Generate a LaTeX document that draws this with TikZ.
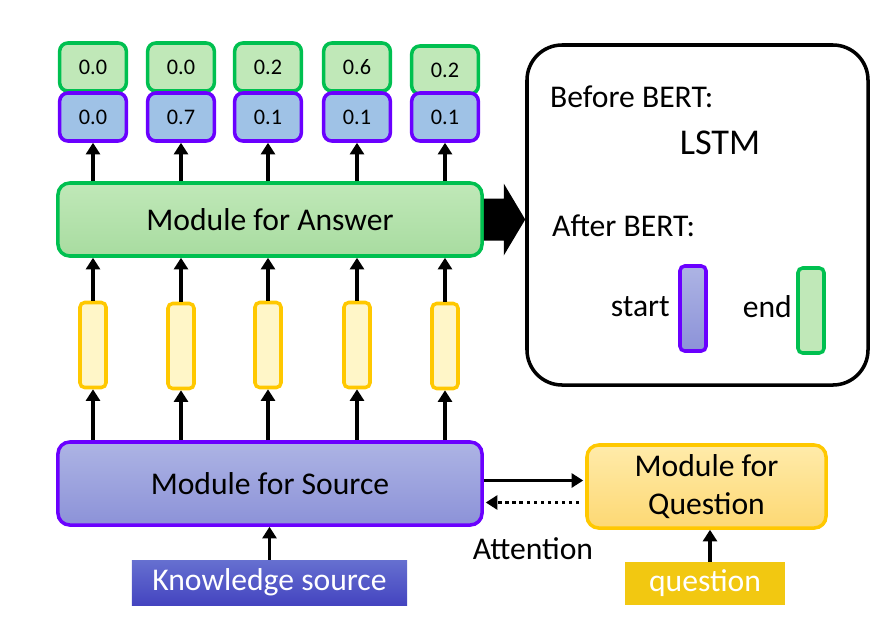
\documentclass[tikz,border=0pt]{standalone}
\usepackage{fontspec}
\setmainfont{Carlito}
\usetikzlibrary{arrows.meta,calc,positioning}
\definecolor{grn}{HTML}{00C050}
\definecolor{grnfill}{HTML}{C0E8B8}
\definecolor{grndark}{HTML}{A8DCA0}
\definecolor{pur}{HTML}{6A00FF}
\definecolor{bluefill}{HTML}{9FC2E6}
\definecolor{lavtop}{HTML}{ADB4E4}
\definecolor{lavbot}{HTML}{8C92D8}
\definecolor{yel}{HTML}{FFC800}
\definecolor{yelfill}{HTML}{FFF6C8}
\definecolor{qtop}{HTML}{FFEBAA}
\definecolor{qbot}{HTML}{FDD873}
\definecolor{kstop}{HTML}{6670D0}
\definecolor{ksbot}{HTML}{4444C0}
\definecolor{gold}{HTML}{F2C811}
\begin{document}
\begin{tikzpicture}[
  x=0.03cm, y=-0.03cm,
  prob/.style={draw, rounded corners=7pt, line width=3pt, minimum width=2.0cm,
    minimum height=1.44cm, inner sep=0, font=\fontsize{19}{22}\selectfont},
  endp/.style={prob, draw=grn, fill=grnfill},
  startp/.style={prob, draw=pur, fill=bluefill},
  hid/.style={draw=yel, fill=yelfill, rounded corners=4pt, line width=3pt,
    minimum width=0.78cm, minimum height=2.55cm, inner sep=0},
  module/.style={rounded corners=10pt, line width=3pt, minimum width=12.72cm,
    inner sep=0, font=\fontsize{27}{32}\selectfont},
  up/.style={line width=3pt, -{Triangle[width=12pt,length=10pt]}},
  txt/.style={font=\fontsize{27}{32}\selectfont, inner sep=0}
]
\useasboundingbox (0,0) rectangle (884,637);

% output probabilities
\node[endp]   (e1) at (93, 67)  {0.0};
\node[startp] (s1) at (93, 117) {0.0};
\node[endp]   (e2) at (181, 67)  {0.0};
\node[startp] (s2) at (181, 117) {0.7};
\node[endp]   (e3) at (268, 67)  {0.2};
\node[startp] (s3) at (268, 117) {0.1};
\node[endp]   (e4) at (357, 67)  {0.6};
\node[startp] (s4) at (357, 117) {0.1};
\node[endp]   (e5) at (445, 70)  {0.2};
\node[startp] (s5) at (445, 117) {0.1};

% hidden vectors
\node[hid] (h1) at (93, 345)  {};
\node[hid] (h2) at (181, 346) {};
\node[hid] (h3) at (268, 345) {};
\node[hid] (h4) at (357, 345) {};
\node[hid] (h5) at (445, 346) {};

% modules
\node[module, draw=grn, top color=grnfill, bottom color=grndark,
  minimum height=2.19cm] (ans) at (270, 219.5) {Module for Answer};
\node[module, draw=pur, top color=lavtop, bottom color=lavbot,
  minimum height=2.49cm] (src) at (270, 483.5) {Module for Source};
\node[module, draw=yel, top color=qtop, bottom color=qbot,
  minimum width=7.17cm, minimum height=2.49cm, align=center]
  (qmod) at (706.5, 486.5) {Module for\\Question};

% inputs
\node[txt, top color=kstop, bottom color=ksbot, text=white, minimum width=8.25cm,
  minimum height=1.35cm] (know) at (269.5, 582.5) {Knowledge source};
\node[txt, fill=gold, text=white, minimum width=4.8cm,
  minimum height=1.29cm] (ques) at (705, 583.5) {question};

% BERT box
\node[draw, line width=3pt, rounded corners=30pt, minimum width=10.23cm,
  minimum height=10.2cm] (bert) at (697.5, 215) {};
\node[txt, anchor=west] (before) at (550, 97) {Before BERT:};
\node[font=\fontsize{31}{36}\selectfont, inner sep=0] (lstm) at (720, 143) {LSTM};
\node[txt, anchor=west] (after) at (552, 226) {After BERT:};
\node[draw=pur, line width=3pt, rounded corners=4pt, top color=lavtop,
  bottom color=lavbot, minimum width=0.78cm, minimum height=2.55cm,
  inner sep=0] (sbar) at (693, 308.5) {};
\node[draw=grn, fill=grnfill, line width=3pt, rounded corners=4pt,
  minimum width=0.78cm, minimum height=2.55cm, inner sep=0] (ebar) at (811, 310.5) {};
\node[txt, anchor=east] (startlbl) at (670, 307) {start};
\node[txt, anchor=east] (endlbl) at (792, 307) {end};

% big arrow
\fill ($(ans.east)+(0,-21)$) -- ($(ans.east)+(20,-21)$) -- ($(ans.east)+(20,-36)$)
  -- (bert.west |- ans.east) -- ($(ans.east)+(20,36)$) -- ($(ans.east)+(20,21)$)
  -- ($(ans.east)+(0,21)$) -- cycle;

% arrows
\draw[up] (ans.north -| s1) -- (s1.south);
\draw[up] (ans.north -| s2) -- (s2.south);
\draw[up] (ans.north -| s3) -- (s3.south);
\draw[up] (ans.north -| s4) -- (s4.south);
\draw[up] (ans.north -| s5) -- (s5.south);

\draw[up] (h1.north) -- (ans.south -| h1);
\draw[up] (h2.north) -- (ans.south -| h2);
\draw[up] (h3.north) -- (ans.south -| h3);
\draw[up] (h4.north) -- (ans.south -| h4);
\draw[up] (h5.north) -- (ans.south -| h5);

\draw[up] (src.north -| h1) -- (h1.south);
\draw[up] (src.north -| h2) -- (h2.south);
\draw[up] (src.north -| h3) -- (h3.south);
\draw[up] (src.north -| h4) -- (h4.south);
\draw[up] (src.north -| h5) -- (h5.south);

\draw[up] (know.north) -- (src.south -| know.north);
\draw[up] ($(ques.north)+(5,0)$) -- ($(qmod.south -| ques.north)+(5,0)$);

\draw[up] ($(src.east)+(0,-3)$) -- ($(qmod.west)+(-2,-6)$);
\draw[up, dash pattern=on 3pt off 3pt]
  ($(qmod.west)+(-6,16)$) -- ($(src.east)+(2,19)$);
\node[txt] (attn) at (533, 549) {Attention};
\end{tikzpicture}
\end{document}
